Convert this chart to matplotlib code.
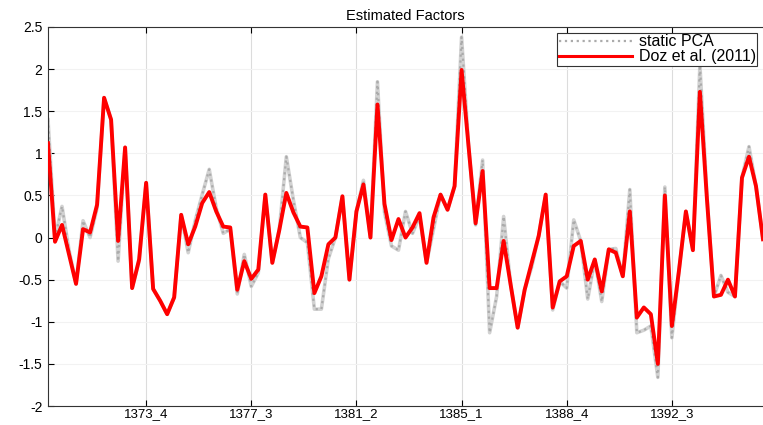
import matplotlib
matplotlib.use("Agg")
import matplotlib.pyplot as plt
import numpy as np

plt.rcParams["font.family"] = ["Liberation Sans", "DejaVu Sans"]

# quarterly factor estimates, first quarter = 1370_2
doz = [1.12, -0.05, 0.15, -0.20, -0.55, 0.10, 0.06, 0.39, 1.66, 1.40,
       -0.04, 1.07, -0.60, -0.26, 0.65, -0.61, -0.75, -0.91, -0.71, 0.27,
       -0.08, 0.13, 0.41, 0.54, 0.31, 0.13, 0.12, -0.62, -0.28, -0.49,
       -0.38, 0.51, -0.30, 0.09, 0.53, 0.30, 0.13, 0.12, -0.66, -0.46,
       -0.08, 0.00, 0.49, -0.50, 0.31, 0.63, 0.00, 1.58, 0.40, -0.03,
       0.22, 0.00, 0.12, 0.29, -0.30, 0.24, 0.51, 0.33, 0.61, 1.99,
       1.08, 0.17, 0.79, -0.60, -0.60, -0.04, -0.56, -1.07, -0.62, -0.30,
       0.02, 0.51, -0.83, -0.52, -0.46, -0.10, -0.04, -0.50, -0.26, -0.64,
       -0.14, -0.18, -0.46, 0.31, -0.95, -0.83, -0.91, -1.50, 0.50, -1.05,
       -0.40, 0.31, -0.15, 1.73, 0.46, -0.70, -0.68, -0.50, -0.70, 0.71,
       0.96, 0.61, -0.02]
pca = [1.40, 0.00, 0.37, -0.15, -0.55, 0.20, 0.00, 0.35, 1.66, 1.40,
       -0.28, 1.07, -0.60, -0.28, 0.65, -0.61, -0.75, -0.91, -0.71, 0.27,
       -0.18, 0.20, 0.51, 0.81, 0.35, 0.05, 0.10, -0.67, -0.20, -0.58,
       -0.42, 0.51, -0.30, 0.10, 0.96, 0.45, 0.00, -0.06, -0.85, -0.85,
       -0.25, 0.00, 0.49, -0.50, 0.31, 0.68, 0.00, 1.85, 0.30, -0.10,
       -0.15, 0.31, 0.05, 0.25, -0.30, 0.10, 0.51, 0.33, 0.61, 2.38,
       1.08, 0.15, 0.92, -1.13, -0.70, 0.25, -0.56, -1.07, -0.62, -0.35,
       0.02, 0.51, -0.86, -0.52, -0.60, 0.21, -0.04, -0.73, -0.26, -0.76,
       -0.14, -0.13, -0.46, 0.57, -1.13, -1.10, -1.05, -1.66, 0.60, -1.19,
       -0.40, 0.31, -0.15, 2.05, 0.50, -0.70, -0.45, -0.65, -0.70, 0.71,
       1.08, 0.61, -0.02]

tick_pos = [14, 29, 44, 59, 74, 89]
tick_labels = ["1373_4", "1377_3", "1381_2", "1385_1", "1388_4", "1392_3"]

t = np.arange(len(doz))

fig = plt.figure(figsize=(7.63, 4.25), dpi=100)
ax = fig.add_axes([48 / 763, 19 / 425, 715 / 763, 379 / 425])

ax.plot(t, pca, color="#d2d2d2", lw=2.6, zorder=2)
ax.plot(t, pca, color="#ababab", lw=1.6, ls=":", zorder=2, label="static PCA")
ax.plot(t, doz, color="#ff0000", lw=2.8, zorder=3, label="Doz et al. (2011)")

ax.set_xlim(0, len(doz) - 1)
ax.set_ylim(-2, 2.5)
ax.set_yticks(np.arange(-2, 2.51, 0.5))
ax.set_yticklabels(["-2", "-1.5", "-1", "-0.5", "0", "0.5", "1", "1.5", "2", "2.5"])
ax.set_xticks(tick_pos)
ax.set_xticklabels(tick_labels)
ax.tick_params(direction="in", top=True, right=False, length=4, width=0.8,
               labelsize=10, pad=4)
ax.tick_params(axis="x", pad=1.5, labelsize=9.5)
ax.grid(True, axis="x", color="#dcdcdc", lw=0.8)
ax.grid(True, axis="y", color="#f2f2f2", lw=0.8)
ax.set_axisbelow(True)
for s in ("left", "bottom", "top"):
    ax.spines[s].set_color("#333333")
    ax.spines[s].set_linewidth(0.8)
ax.spines["right"].set_visible(False)

ax.set_title("Estimated Factors", fontsize=10.5, pad=5)
leg = ax.legend(loc="upper right", fontsize=11.5, fancybox=False, framealpha=1,
                edgecolor="#333333", borderpad=0.1, labelspacing=0.0,
                handlelength=4.6, handletextpad=0.4, borderaxespad=0.35)
leg.get_frame().set_linewidth(0.8)
leg.get_lines()[1].set_linewidth(2.2)

fig.savefig("out.png", facecolor="white")
